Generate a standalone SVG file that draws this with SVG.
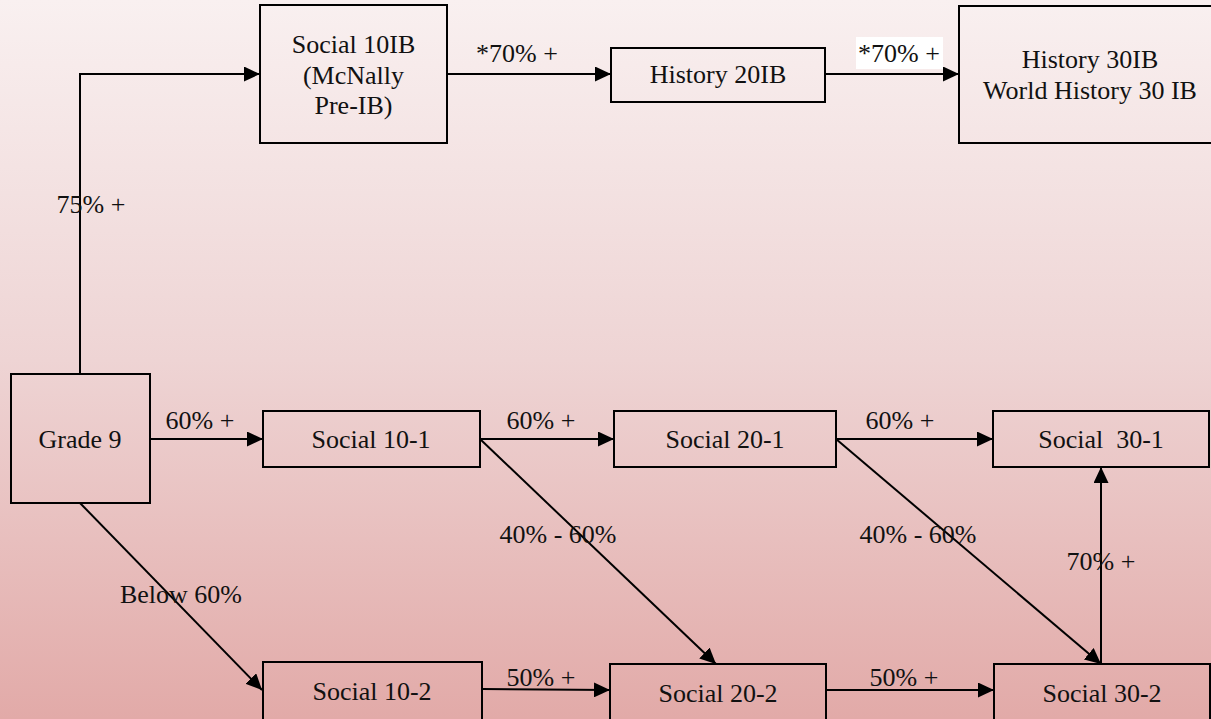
<svg xmlns="http://www.w3.org/2000/svg" width="1211" height="719" viewBox="0 0 1211 719">
  <defs>
    <linearGradient id="bg" x1="0" y1="0" x2="0" y2="1">
      <stop offset="0" stop-color="#f9f0f0"/>
      <stop offset="0.5" stop-color="#eed4d4"/>
      <stop offset="1" stop-color="#e2aaa8"/>
    </linearGradient>
    <marker id="arrow" viewBox="0 0 16 15" refX="16" refY="7.5" markerWidth="16" markerHeight="15" markerUnits="userSpaceOnUse" orient="auto">
      <path d="M0,0 L16,7.5 L0,15 Z" fill="#000"/>
    </marker>
    <style>
      .box { fill: none; stroke: #000; stroke-width: 2; }
      .edge { fill: none; stroke: #000; stroke-width: 2; marker-end: url(#arrow); }
      text { font-family: "Liberation Serif", "Times New Roman", serif; font-size: 26px; fill: #111; text-anchor: middle; white-space: pre; }
    </style>
  </defs>

  <rect x="0" y="0" width="1211" height="719" fill="url(#bg)"/>

  <!-- connectors -->
  <g id="connectors">
    <polyline class="edge" points="80,374 80,74 260,74"/>
    <line class="edge" x1="447" y1="74" x2="611" y2="74"/>
    <line class="edge" x1="825" y1="74" x2="959" y2="74"/>
    <line class="edge" x1="150" y1="439" x2="263" y2="439"/>
    <line class="edge" x1="480" y1="439" x2="614" y2="439"/>
    <line class="edge" x1="836" y1="439" x2="993" y2="439"/>
    <line class="edge" x1="80" y1="503" x2="262" y2="690"/>
    <line class="edge" x1="480" y1="439" x2="716" y2="664"/>
    <line class="edge" x1="836" y1="439" x2="1101" y2="664"/>
    <line class="edge" x1="1101" y1="664" x2="1101" y2="467"/>
    <line class="edge" x1="482" y1="689" x2="610" y2="690"/>
    <line class="edge" x1="826" y1="690" x2="994" y2="690"/>

    <text x="91" y="213">75% +</text>
    <text x="517" y="62">*70% +</text>
    <rect x="856" y="37" width="87" height="32" fill="#fff"/>
    <text x="899" y="62">*70% +</text>
    <text x="200" y="429">60% +</text>
    <text x="541" y="429">60% +</text>
    <text x="900" y="429">60% +</text>
    <text x="558" y="543">40% - 60%</text>
    <text x="918" y="543">40% - 60%</text>
    <text x="1101" y="570">70% +</text>
    <text x="181" y="603">Below 60%</text>
    <text x="541" y="686">50% +</text>
    <text x="904" y="686">50% +</text>
  </g>

  <!-- nodes -->
  <g id="social-10ib">
    <rect class="box" x="260" y="5" width="187" height="138"/>
    <text x="353.5" y="53">Social 10IB</text>
    <text x="353.5" y="84">(McNally</text>
    <text x="353.5" y="114">Pre-IB)</text>
  </g>
  <g id="history-20ib">
    <rect class="box" x="611" y="48" width="214" height="54"/>
    <text x="718" y="83">History 20IB</text>
  </g>
  <g id="history-30ib">
    <rect class="box" x="959" y="6" width="262" height="137"/>
    <text x="1090" y="68">History 30IB</text>
    <text x="1090" y="99">World History 30 IB</text>
  </g>
  <g id="grade-9">
    <rect class="box" x="11" y="374" width="139" height="129"/>
    <text x="80" y="448">Grade 9</text>
  </g>
  <g id="social-10-1">
    <rect class="box" x="263" y="411" width="217" height="56"/>
    <text x="371" y="448">Social 10-1</text>
  </g>
  <g id="social-20-1">
    <rect class="box" x="614" y="411" width="222" height="56"/>
    <text x="725" y="448">Social 20-1</text>
  </g>
  <g id="social-30-1">
    <rect class="box" x="993" y="411" width="216" height="56"/>
    <text x="1101" y="448">Social  30-1</text>
  </g>
  <g id="social-10-2">
    <rect class="box" x="263" y="662" width="219" height="60"/>
    <text x="372" y="700">Social 10-2</text>
  </g>
  <g id="social-20-2">
    <rect class="box" x="610" y="664" width="216" height="58"/>
    <text x="718" y="702">Social 20-2</text>
  </g>
  <g id="social-30-2">
    <rect class="box" x="994" y="664" width="216" height="58"/>
    <text x="1102" y="702">Social 30-2</text>
  </g>
</svg>
